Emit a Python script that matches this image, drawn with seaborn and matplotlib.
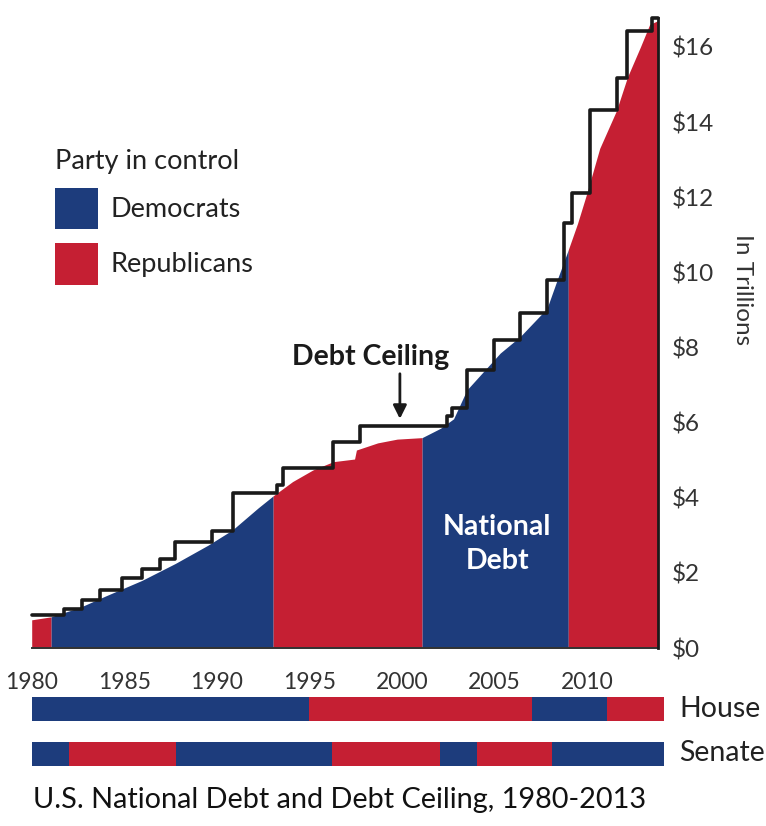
import numpy as np
import pandas as pd
import matplotlib
matplotlib.use("Agg")
import matplotlib.pyplot as plt
from matplotlib.patches import Patch
import seaborn as sns

# ---- data (trillions of US$) ----
debt_years = [1980.0, 1981.05, 1982.6, 1983.97, 1985.96, 1987.76, 1989.54, 1990.84, 1992.24, 1993.05,
              1994.1, 1995.2, 1996.3, 1997.45, 1997.55, 1998.7, 1999.75, 2001.1,
              2002.1, 2002.8, 2003.52, 2005.32, 2006.4, 2007.85, 2008.4, 2009.0,
              2009.5, 2010.0, 2010.7, 2011.6, 2012.2, 2012.9, 2013.4, 2013.85]
debt_values = [0.75, 0.83, 1.08, 1.38, 1.8, 2.25, 2.74, 3.14, 3.73, 4.05,
               4.43, 4.74, 4.96, 5.03, 5.27, 5.46, 5.56, 5.6,
               5.85, 6.1, 6.87, 7.85, 8.29, 9.04, 9.8, 10.6,
               11.3, 12.1, 13.3, 14.3, 15.2, 16.0, 16.6, 16.7]

ceiling_years = [1980.0, 1981.72, 1982.71, 1983.7, 1984.88, 1985.96, 1986.95, 1987.76, 1989.76,
                 1990.89, 1993.27, 1993.6, 1996.3, 1997.76, 2002.44, 2002.7, 2003.52, 2004.96,
                 2006.4, 2007.85, 2008.75, 2009.2, 2010.15, 2011.66, 2012.17, 2013.52, 2013.85]
ceiling_values = [0.88, 1.03, 1.28, 1.54, 1.86, 2.1, 2.37, 2.83, 3.11,
                  4.12, 4.34, 4.78, 5.48, 5.91, 6.18, 6.4, 7.4, 8.2,
                  8.91, 9.8, 11.3, 12.12, 14.32, 15.17, 16.42, 16.77, 16.77]

# party in control (as coloured in the reference)
control_starts = [1980.0, 1981.05, 1993.05, 2001.1, 2009.0]
control_ends = [1981.05, 1993.05, 2001.1, 2009.0, 2013.85]
control_party = ["Republicans", "Democrats", "Republicans", "Democrats", "Republicans"]

house_starts = [1980.0, 1995.0, 2007.06, 2011.08]
house_ends = [1995.0, 2007.06, 2011.08, 2014.18]
house_party = ["Democrats", "Republicans", "Democrats", "Republicans"]

senate_starts = [1980.0, 1982.03, 1987.8, 1996.25, 2002.07, 2004.05, 2008.1]
senate_ends = [1982.03, 1987.8, 1996.25, 2002.07, 2004.05, 2008.1, 2014.18]
senate_party = ["Democrats", "Republicans", "Democrats", "Republicans", "Democrats", "Republicans", "Democrats"]

y_ticks = [0, 2, 4, 6, 8, 10, 12, 14, 16]
y_labels = ["$0", "$2", "$4", "$6", "$8", "$10", "$12", "$14", "$16"]
x_ticks = [1980, 1985, 1990, 1995, 2000, 2005, 2010]
x_labels = ["1980", "1985", "1990", "1995", "2000", "2005", "2010"]

colors = {"Democrats": "#1d3c7c", "Republicans": "#c51f33"}
INK = "#1a1a1a"

sns.set_theme(style="white")
plt.rcParams["font.family"] = ["Lato", "DejaVu Sans"]
plt.rcParams["text.color"] = "#222222"

W, H = 766, 826
fig = plt.figure(figsize=(W / 100, H / 100), dpi=100)
fig.patch.set_facecolor("white")


def box(l, t, r, b):
    return [l / W, 1 - b / H, (r - l) / W, (b - t) / H]


ax = fig.add_axes(box(31.7, 18, 658, 648))
ax.set_xlim(1980, 2013.85)
ax.set_ylim(0, 16.77)
ax.set_facecolor("white")

df = pd.DataFrame({"year": debt_years, "debt": debt_values})
for s, e, p in zip(control_starts, control_ends, control_party):
    seg = df[(df.year >= s - 1e-9) & (df.year <= e + 1e-9)]
    ax.fill_between(seg.year, 0, seg.debt, color=colors[p], lw=0, zorder=1)

cdf = pd.DataFrame({"year": ceiling_years, "ceiling": ceiling_values})
sns.lineplot(data=cdf, x="year", y="ceiling", drawstyle="steps-post", color=INK,
             lw=2.6, ax=ax, zorder=3, clip_on=False)
ax.set_xlabel("")
ax.set_ylabel("")

for sp in ["left", "top"]:
    ax.spines[sp].set_visible(False)
ax.spines["right"].set_color(INK)
ax.spines["right"].set_linewidth(2.0)
ax.spines["bottom"].set_color("#333333")
ax.spines["bottom"].set_linewidth(1.4)
ax.spines["right"].set_zorder(4)

ax.yaxis.tick_right()
ax.set_yticks(y_ticks)
ax.set_yticklabels(y_labels)
ax.set_xticks(x_ticks)
ax.set_xticklabels(x_labels)
ax.tick_params(axis="y", length=0, pad=10, labelsize=17.5, labelcolor="#333333")
ax.tick_params(axis="x", length=0, pad=17, labelsize=16.5, labelcolor="#333333")

fig.text(743 / W, 1 - 290 / H, "In Trillions", rotation=270, ha="center", va="center",
         fontsize=17.5, color="#333333")

# annotations
ax.text(1998.3, 7.75, "Debt Ceiling", ha="center", va="center", fontsize=20.5,
        fontweight="bold", color=INK)
ax.annotate("", xy=(1999.9, 6.1), xytext=(1999.9, 7.3),
            arrowprops=dict(arrowstyle="-|>", lw=2.0, color=INK, mutation_scale=20,
                            shrinkA=0, shrinkB=0))
ax.text(2005.17, 2.76, "National\nDebt", ha="center", va="center", fontsize=20.5,
        fontweight="bold", color="white", linespacing=1.38, zorder=5)

# legend
handles = [Patch(facecolor=colors["Democrats"], edgecolor="none", label="Democrats"),
           Patch(facecolor=colors["Republicans"], edgecolor="none", label="Republicans")]
leg = ax.legend(handles=handles, title="Party in control", frameon=False,
                loc="upper left", bbox_to_anchor=(55 / W, 1 - 149 / H),
                bbox_transform=fig.transFigure, fontsize=19.5, title_fontsize=19.5,
                handlelength=1.6, handleheight=2.0, labelspacing=0.5,
                handletextpad=0.45, borderpad=0, borderaxespad=0, alignment="left")
for t in leg.get_texts():
    t.set_color("#222222")
leg.get_title().set_color("#222222")

# congress bars
axb = fig.add_axes(box(31.7, 697, 664, 766))
axb.set_xlim(1980, 2014.18)
axb.set_ylim(0, 69)
axb.axis("off")
axb.broken_barh([(s, e - s) for s, e in zip(house_starts, house_ends)], (45, 24),
                facecolors=[colors[p] for p in house_party], lw=0)
axb.broken_barh([(s, e - s) for s, e in zip(senate_starts, senate_ends)], (0, 24),
                facecolors=[colors[p] for p in senate_party], lw=0)
fig.text(679 / W, 1 - 709 / H, "House", ha="left", va="center", fontsize=20.5, color="#222222")
fig.text(679 / W, 1 - 753 / H, "Senate", ha="left", va="center", fontsize=20.5, color="#222222")

fig.text(340 / W, 1 - 800 / H, "U.S. National Debt and Debt Ceiling, 1980-2013",
         ha="center", va="center", fontsize=20.8, color="#111111")

fig.savefig("out.png", dpi=100, facecolor="white")
